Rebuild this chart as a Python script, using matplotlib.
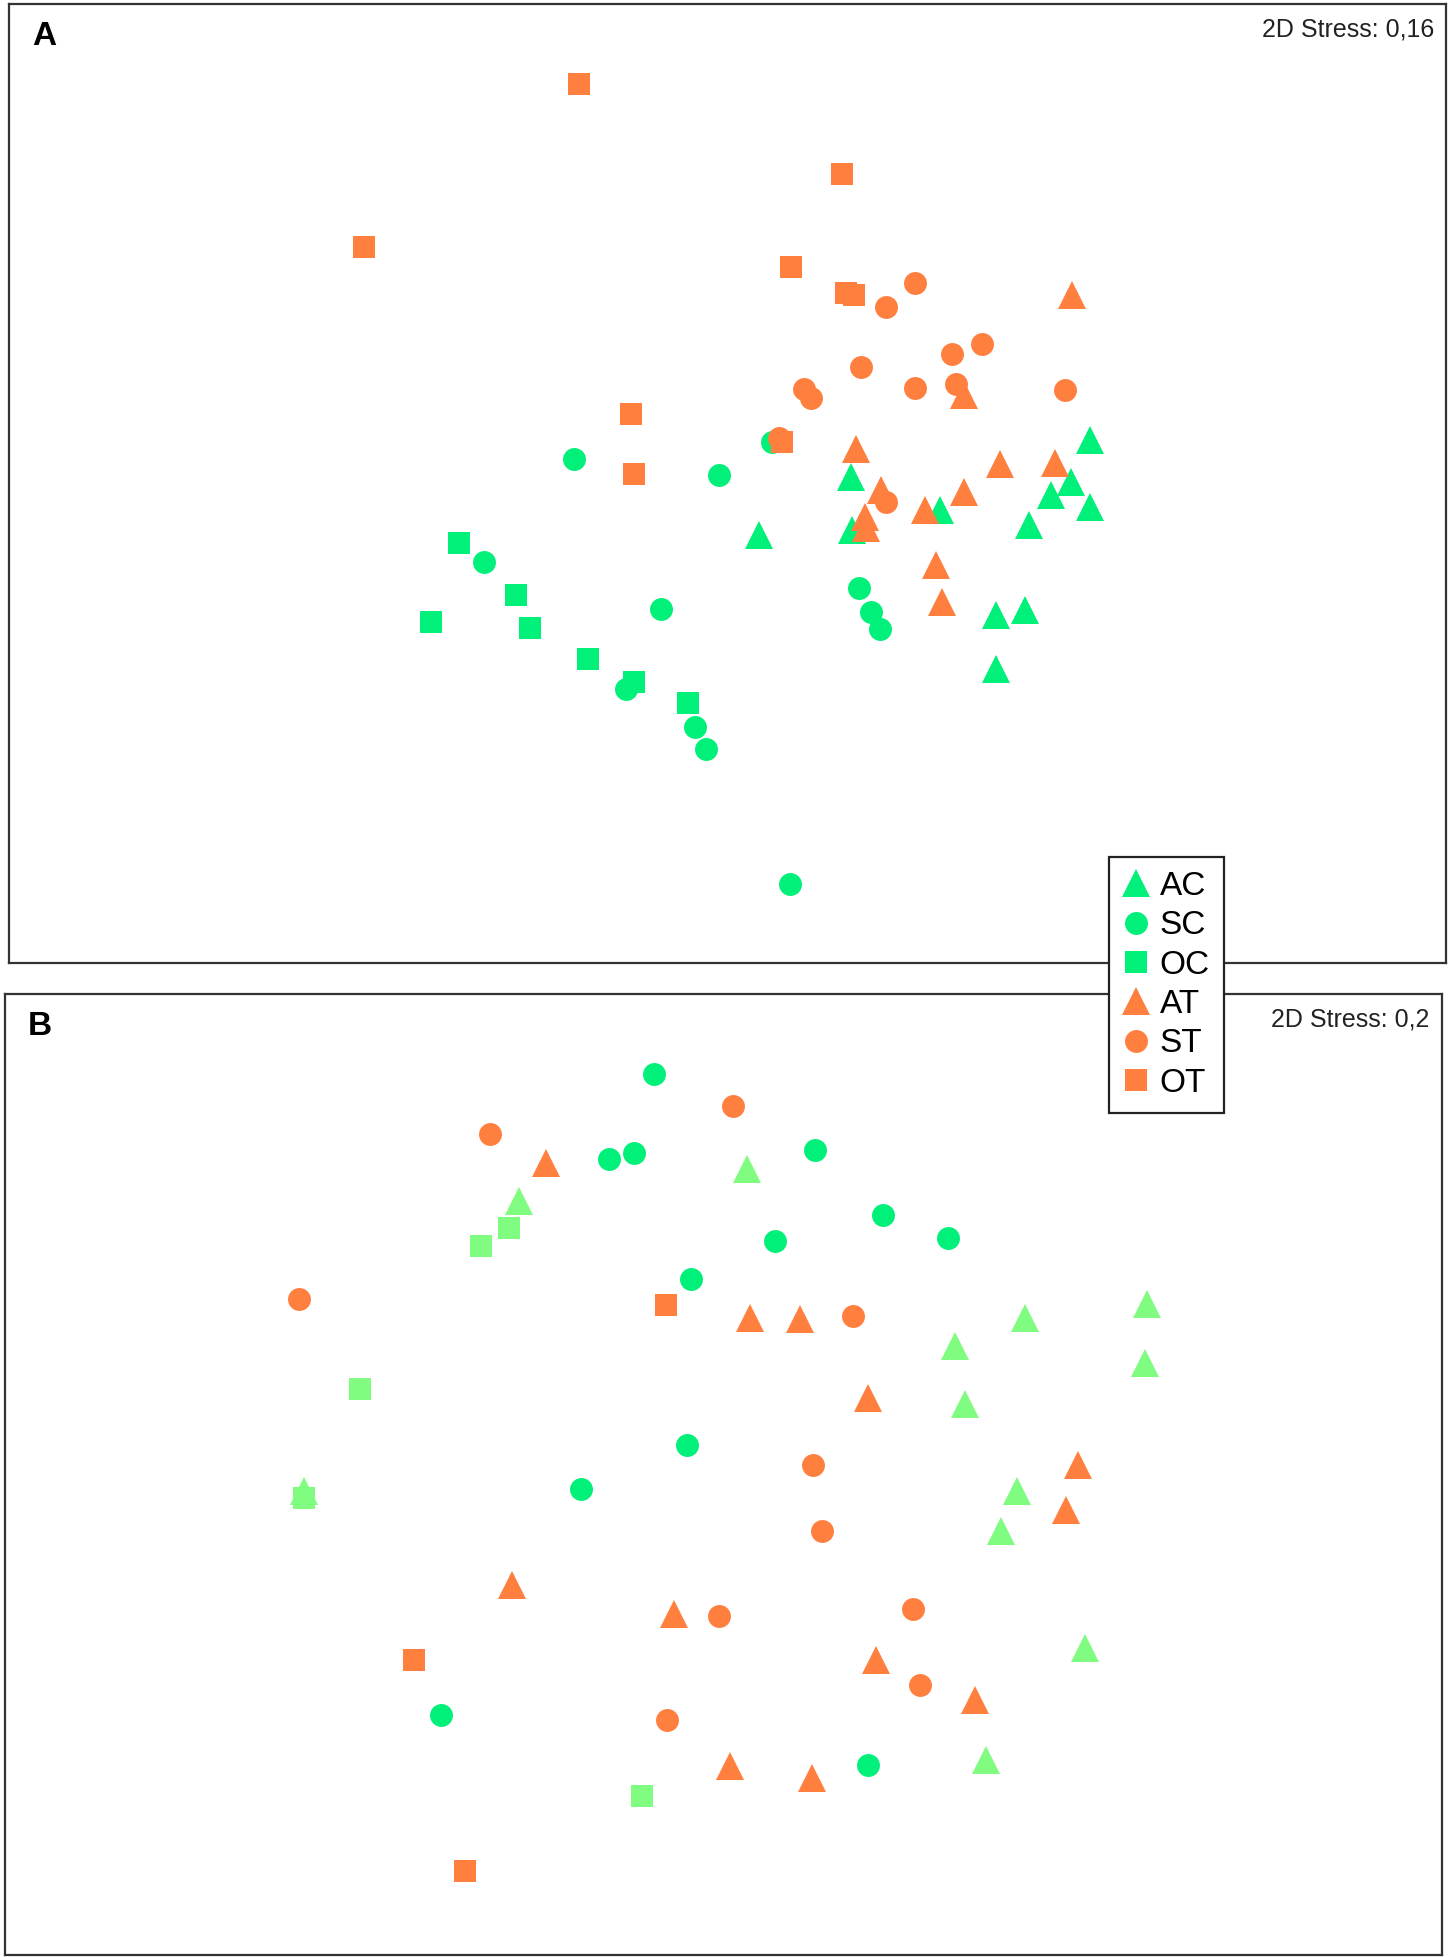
import matplotlib
matplotlib.use('Agg')
import matplotlib.pyplot as plt
from matplotlib.lines import Line2D

plt.rcParams['font.family'] = ['Liberation Sans', 'DejaVu Sans']

# nMDS coordinates (screen units, y grows downward)
# panel A
a_ac_x = [872, 681, 857, 841, 872, 752, 823, 607, 682, 797, 820, 797]
a_ac_y = [352, 381, 385, 396, 405, 408, 420, 428, 424, 492, 488, 535]
a_sc_x = [459, 575, 618, 387, 529, 687, 697, 704, 501, 556, 565, 632]
a_sc_y = [367, 380, 353, 449, 487, 470, 489, 503, 551, 581, 599, 707]
a_oc_x = [367, 413, 345, 424, 470, 507, 550]
a_oc_y = [434, 476, 497, 502, 527, 545, 562]
a_at_x = [858, 771, 685, 800, 844, 705, 771, 740, 692, 693, 749, 754]
a_at_y = [236, 316, 359, 371, 370, 392, 393, 408, 413, 422, 452, 481]
a_st_x = [732, 709, 689, 786, 762, 643, 649, 732, 765, 852, 623, 709]
a_st_y = [226, 245, 293, 275, 283, 311, 318, 310, 307, 312, 350, 401]
a_ot_x = [463, 674, 291, 633, 677, 683, 505, 507, 626]
a_ot_y = [67, 139, 197, 213, 234, 236, 331, 379, 353]

# panel B
b_ac_x = [598, 415, 820, 918, 764, 916, 772, 814, 801, 868, 789, 243]
b_ac_y = [935, 961, 1054, 1043, 1077, 1090, 1123, 1193, 1225, 1318, 1408, 1193]
b_sc_x = [523, 487, 507, 652, 707, 759, 620, 553, 550, 465, 353, 695]
b_sc_y = [859, 927, 922, 920, 972, 990, 993, 1023, 1156, 1191, 1372, 1412]
b_oc_x = [385, 407, 288, 243, 514]
b_oc_y = [997, 982, 1111, 1198, 1437]
b_at_x = [437, 600, 640, 695, 863, 853, 410, 539, 701, 780, 584, 650]
b_at_y = [930, 1054, 1055, 1118, 1172, 1208, 1268, 1291, 1328, 1360, 1413, 1422]
b_st_x = [587, 392, 239, 683, 651, 658, 575, 731, 736, 534]
b_st_y = [885, 907, 1039, 1053, 1172, 1225, 1293, 1287, 1348, 1376]
b_ot_x = [533, 331, 372]
b_ot_y = [1044, 1328, 1497]

groups = ['AC', 'SC', 'OC', 'AT', 'ST', 'OT']
stress = ['2D Stress: 0,16', '2D Stress: 0,2']

green = '#00F07A'
light_green = '#80FC80'
orange = '#FF7F3F'
shapes = {'A': '^', 'S': 'o', 'O': 's'}
sizes = {'^': 20, 'o': 16.5, 's': 16.5}

W, H = 1450, 1957
fig = plt.figure(figsize=(W / 100, H / 100), dpi=100)


def add_panel(left, top, right, bottom):
    ax = fig.add_axes([left / W, 1 - bottom / H, (right - left) / W, (bottom - top) / H])
    for s in ax.spines.values():
        s.set_linewidth(1.6)
        s.set_color('#333333')
    ax.set_xticks([])
    ax.set_yticks([])
    return ax


def draw(ax, data, colors):
    for g, (xs, ys) in zip(groups, data):
        m = shapes[g[0]]
        ax.plot(xs, ys, linestyle='none', marker=m, markersize=sizes[m],
                markeredgewidth=0, color=colors[g])


axA = add_panel(9, 4, 1446, 963)
axB = add_panel(5, 994, 1442, 1955)

draw(axA, [(a_ac_x, a_ac_y), (a_sc_x, a_sc_y), (a_oc_x, a_oc_y),
           (a_at_x, a_at_y), (a_st_x, a_st_y), (a_ot_x, a_ot_y)],
     {'AC': green, 'SC': green, 'OC': green, 'AT': orange, 'ST': orange, 'OT': orange})
draw(axB, [(b_ac_x, b_ac_y), (b_sc_x, b_sc_y), (b_oc_x, b_oc_y),
           (b_at_x, b_at_y), (b_st_x, b_st_y), (b_ot_x, b_ot_y)],
     {'AC': light_green, 'SC': green, 'OC': light_green, 'AT': orange, 'ST': orange, 'OT': orange})

axA.set_xlim(7, 1157)
axA.set_ylim(770, 3)
axB.set_xlim(4, 1154)
axB.set_ylim(1564, 795)

for ax, lab, st in [(axA, 'A', stress[0]), (axB, 'B', stress[1])]:
    ax.text(0.016, 0.982, lab, transform=ax.transAxes, fontsize=24,
            fontweight='bold', ha='left', va='top')
    ax.text(0.9915, 0.986, st, transform=ax.transAxes, fontsize=18,
            ha='right', va='top', color='#222222')

handles = []
for g in groups:
    c = green if g.endswith('C') else orange
    m = shapes[g[0]]
    handles.append(Line2D([], [], linestyle='none', marker=m, markersize=sizes[m],
                          markeredgewidth=0, color=c))

leg = fig.legend(handles, groups, loc='upper left',
                 bbox_to_anchor=(1109 / W, 1 - 857 / H), fontsize=24,
                 frameon=True, fancybox=False, handlelength=0.75,
                 handletextpad=0.35, labelspacing=0.25, borderpad=0.42,
                 borderaxespad=0)
leg.get_frame().set_edgecolor('#222222')
leg.get_frame().set_linewidth(1.6)
leg.get_frame().set_alpha(1)
leg.set_zorder(10)

fig.savefig('out.png', dpi=100)
